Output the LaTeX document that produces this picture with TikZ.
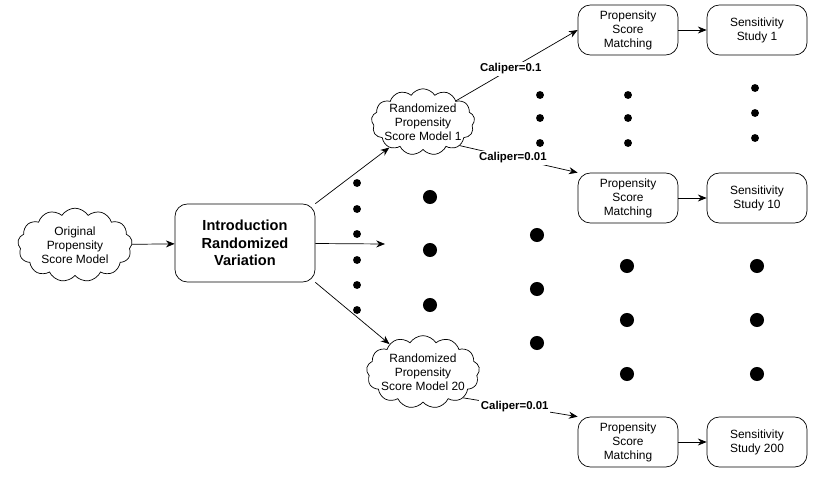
\documentclass[tikz,border=0pt]{standalone}
\usepackage{fontspec}
\setmainfont{Liberation Sans}
\usetikzlibrary{arrows.meta, positioning, shapes.symbols}

\tikzset{
  puff/.style={cloud, cloud puffs=13, cloud puff arc=115, aspect=1.8, draw, fill=white, align=center,
    inner xsep=-2pt, inner ysep=-9pt, font=\fontsize{6.8}{8}\selectfont},
  stage/.style={draw, rounded corners=7pt, align=center, minimum width=2cm, minimum height=1cm,
    inner sep=1pt, font=\fontsize{6.8}{8}\selectfont},
  link/.style={-{Stealth[length=5pt,width=4pt]}},
  cal/.style={font=\bfseries\fontsize{6.5}{8}\selectfont, fill=white, inner sep=1pt},
  sdot/.style={circle, fill, inner sep=0pt, minimum size=4.5pt},
  bdot/.style={circle, fill, inner sep=0pt, minimum size=8pt}
}

\begin{document}
\begin{tikzpicture}[x=0.02cm, y=-0.02cm]
  \useasboundingbox (0,0) rectangle (814,480);
  % models and stages
  \node[puff, inner xsep=3pt] (orig) at (75,245) {Original\\Propensity\\Score Model};
  \node[stage, minimum width=2.8cm, minimum height=1.56cm, font=\bfseries\fontsize{8.3}{10}\selectfont] (intro) at (245,243) {Introduction\\Randomized\\Variation};
  \node[puff] (rand1) at (423,122) {Randomized\\Propensity\\Score Model 1};
  \node[puff] (rand20) at (423,372) {Randomized\\Propensity\\Score Model 20};
  \node[stage] (match1) at (628,30) {Propensity\\Score\\Matching};
  \node[stage] (match10) at (628,198) {Propensity\\Score\\Matching};
  \node[stage] (match200) at (628,442) {Propensity\\Score\\Matching};
  \node[stage] (study1) at (757,30) {Sensitivity\\Study 1};
  \node[stage] (study10) at (757,198) {Sensitivity\\Study 10};
  \node[stage] (study200) at (757,442) {Sensitivity\\Study 200};
  \coordinate (mid) at (385,244);

  % connectors
  \draw[link] (orig) -- (intro);
  \draw[link] (intro.north east) -- (rand1);
  \draw[link] (intro) -- (mid);
  \draw[link] (intro.south east) -- (rand20);
  \draw[link] (rand1.north east) -- node[cal, pos=0.45] {Caliper=0.1} (match1.west);
  \draw[link] (rand1.south east) -- node[cal, pos=0.45] {Caliper=0.01} (match10.north west);
  \draw[link] (rand20.south east) -- node[cal, pos=0.45] {Caliper=0.01} (match200.north west);
  \draw[link] (match1) -- (study1);
  \draw[link] (match10) -- (study10);
  \draw[link] (match200) -- (study200);

  % ellipsis dots
  \foreach \y in {183,209,234,260,285,310} \node[sdot] at (357,\y) {};
  \foreach \x/\y in {540/95,540/118,540/143,628/95,628/118,628/143,755/88,755/113,755/138}
    \node[sdot] at (\x,\y) {};
  \foreach \y in {197,250,305} \node[bdot] at (430,\y) {};
  \foreach \y in {235,289,343} \node[bdot] at (537,\y) {};
  \foreach \x in {627,757} \foreach \y in {266,320,374} \node[bdot] at (\x,\y) {};
\end{tikzpicture}
\end{document}
